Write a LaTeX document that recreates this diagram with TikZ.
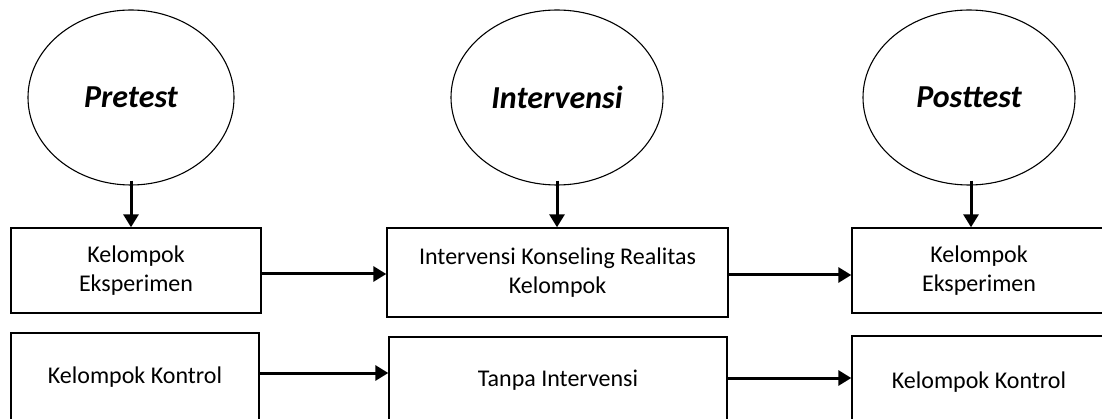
\documentclass[tikz,border=0pt]{standalone}
\usepackage{fontspec}
\setmainfont{Carlito}
\usetikzlibrary{shapes.geometric,arrows.meta}
\begin{document}
\begin{tikzpicture}[x=1pt,y=-1pt,
  stage/.style={ellipse,draw,line width=1.1pt,inner sep=0pt,minimum width=210pt,minimum height=175pt,font=\fontsize{32}{36}\selectfont\bfseries\itshape},
  box/.style={rectangle,draw,line width=1.4pt,inner sep=0pt,align=center,font=\fontsize{24}{29}\selectfont},
  arr/.style={line width=3pt,-{Triangle[length=13pt,width=15pt]}}]
\useasboundingbox (0,0) rectangle (1102,419);
\clip (0,0) rectangle (1102,419);
\fill[white] (0,0) rectangle (1102,419);
% ellipses
\node[stage,minimum width=206pt] (e1) at (131,97.5) {Pretest};
\node[stage,minimum width=212pt] (e2) at (557,97.5) {Intervensi};
\node[stage,minimum width=212pt] (e3) at (969,97.5) {Posttest};
% boxes
\node[box,minimum width=250pt,minimum height=85pt] (b1) at (136,270.5) {Kelompok\\Eksperimen};
\node[box,minimum width=341pt,minimum height=89pt] (b3) at (557.5,272.5) {Intervensi Konseling Realitas\\Kelompok};
\node[box,minimum width=254pt,minimum height=85pt] (b5) at (979,270.5) {Kelompok\\Eksperimen};
\node[box,minimum width=248pt,minimum height=88pt] (b2) at (135,377) {Kelompok Kontrol};
\node[box,minimum width=338pt,minimum height=86pt] (b4) at (558,380) {Tanpa Intervensi};
\node[box,minimum width=254pt,minimum height=92pt] (b6) at (979,382) {Kelompok Kontrol};
% vertical arrows
\draw[arr] ([yshift=5pt]e1.south) -- (e1.south |- b1.north);
\draw[arr] ([yshift=5pt]e2.south) -- (e2.south |- b3.north);
\draw[arr] ([yshift=5pt,xshift=2pt]e3.south) -- ([xshift=2pt]e3.south |- b5.north);
% horizontal arrows
\draw[arr] ([yshift=-3.5pt]b1.east) -- ([yshift=-3.5pt]b1.east -| b3.west);
\draw[arr] ([yshift=-2.5pt]b3.east) -- ([yshift=-2.5pt]b3.east -| b5.west);
\draw[arr] ([yshift=4pt]b2.east) -- ([yshift=4pt]b2.east -| b4.west);
\draw[arr] ([yshift=2pt]b4.east) -- ([yshift=2pt]b4.east -| b6.west);
\end{tikzpicture}
\end{document}
